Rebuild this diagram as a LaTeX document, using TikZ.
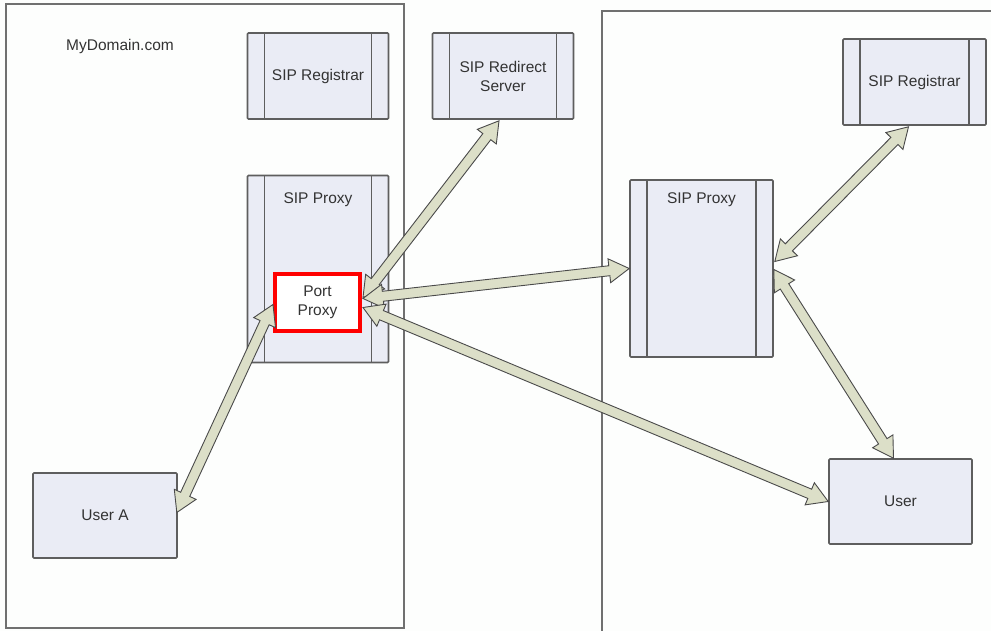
\documentclass[tikz,border=0pt]{standalone}
\usepackage{fontspec}
\setmainfont{Liberation Sans}
\usetikzlibrary{calc}
\definecolor{boxfill}{HTML}{EAECF5}
\definecolor{boxline}{HTML}{5E5E5E}
\definecolor{domline}{HTML}{707070}
\definecolor{arrfill}{HTML}{DCDFC8}
\definecolor{arrline}{HTML}{4A4A4A}
\definecolor{txt}{HTML}{333333}
\definecolor{bg}{HTML}{FDFEFD}
\tikzset{
  every node/.style={font=\fontsize{15.5}{19}\selectfont, text=txt},
  plainbox/.style={draw=boxline, line width=1.6pt, fill=boxfill, rounded corners=1pt, inner sep=0pt, align=center},
  procbox/.style={plainbox, path picture={
     \draw[boxline, line width=1.6pt]
       ([xshift=17pt]path picture bounding box.north west) -- ([xshift=17pt]path picture bounding box.south west)
       ([xshift=-17pt]path picture bounding box.north east) -- ([xshift=-17pt]path picture bounding box.south east);}},
  domainframe/.style={draw=domline, line width=1.8pt},
  fatarr/.style={draw=arrline, line width=0.9pt, fill=arrfill, line join=miter},
  portbox/.style={draw=red, line width=4pt, fill=white, inner sep=0pt, align=center}
}
\newcommand\fahl{20pt}
\newcommand\fahw{12pt}
\newcommand\fasw{5pt}
\newcommand\fatarrow[2]{%
  \coordinate (faHa) at ($(#1)!\fahl!(#2)$);
  \coordinate (faHb) at ($(#2)!\fahl!(#1)$);
  \draw[fatarr] (#1) -- ($(faHa)!\fahw!90:(#2)$) -- ($(faHa)!\fasw!90:(#2)$)
     -- ($(faHb)!\fasw!90:(#2)$) -- ($(faHb)!\fahw!90:(#2)$) -- (#2)
     -- ($(faHb)!\fahw!-90:(#2)$) -- ($(faHb)!\fasw!-90:(#2)$)
     -- ($(faHa)!\fasw!-90:(#2)$) -- ($(faHa)!\fahw!-90:(#2)$) -- cycle;}
\begin{document}
\begin{tikzpicture}[x=1pt,y=-1pt]
\useasboundingbox (0,0) rectangle (991,631);
\fill[bg] (0,0) rectangle (991,631);
% domains
\draw[domainframe] (6,4) rectangle (404,628);
\draw[domainframe] (991,11) -- (602,11) -- (602,631);
\node[anchor=center] (dom) at (120,46) {MyDomain.com};
% left side
\node[procbox, minimum width=141pt, minimum height=86pt] (lreg) at (318,76) {SIP Registrar};
\node[procbox, minimum width=141pt, minimum height=187pt] (lprox) at (318,269) {};
\node (lproxt) at (318,200) {SIP Proxy};
\node[portbox, minimum width=85pt, minimum height=57pt] (pp) at (317.5,302.5) {Port\\Proxy};
\node[procbox, minimum width=141pt, minimum height=86pt] (rs) at (503,76) {SIP Redirect\\Server};
\node[plainbox, minimum width=144pt, minimum height=85pt] (ua) at (105,515.5) {User A};
% right side
\node[procbox, minimum width=143pt, minimum height=177pt] (rp) at (701.5,268.5) {};
\node (rpt) at (701.5,200) {SIP Proxy};
\node[procbox, minimum width=143pt, minimum height=86pt] (rr) at (914.5,82) {SIP Registrar};
\node[plainbox, minimum width=143pt, minimum height=85pt] (us) at (900.5,501.5) {User};
% connector ends
\coordinate (e1a) at ($(pp.west)+(0,2)$);
\coordinate (e1b) at ($(ua.east)+(-1,-3)$);
\coordinate (e2a) at ($(pp.east)+(1,-5)$);
\coordinate (e2b) at ($(rs.south)+(-4,1)$);
\coordinate (e3a) at ($(pp.east)+(1,-4)$);
\coordinate (e3b) at (rp.west);
\coordinate (e4a) at ($(pp.east)+(1,5)$);
\coordinate (e4b) at (us.west);
\coordinate (e5a) at ($(rp.east)+(1,-7)$);
\coordinate (e5b) at ($(rr.south)+(-6,1)$);
\coordinate (e6a) at ($(rp.east)+(0,1)$);
\coordinate (e6b) at ($(us.north)+(-7,0)$);
\fatarrow{e1a}{e1b}
\fatarrow{e2a}{e2b}
\fatarrow{e3a}{e3b}
\fatarrow{e4a}{e4b}
\fatarrow{e5a}{e5b}
\fatarrow{e6a}{e6b}
\end{tikzpicture}
\end{document}
